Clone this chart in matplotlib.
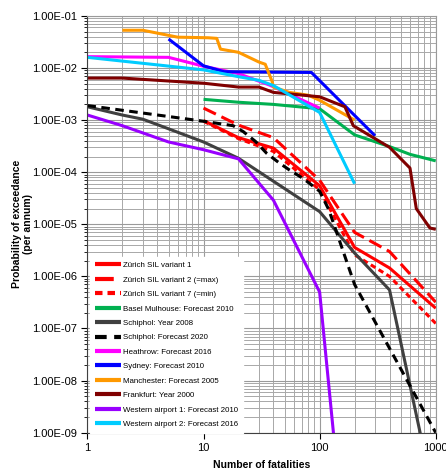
import numpy as np
import matplotlib
matplotlib.use("Agg")
import matplotlib.pyplot as plt
from matplotlib.ticker import LogLocator, FuncFormatter, NullFormatter

plt.rcParams['font.family'] = ['Liberation Sans', 'DejaVu Sans']

# courbes F-N (x = nombre de victimes, y = probabilité)
zh_v1_x = [10, 20, 40, 100, 200, 400, 1000]
zh_v1_y = [9.8e-4, 4.6e-4, 2.9e-4, 5.5e-5, 3.6e-6, 1.45e-6, 2.45e-7]

zh_v2_x = [10, 20, 40, 100, 200, 400, 1000]
zh_v2_y = [1.7e-3, 8.0e-4, 4.6e-4, 7.0e-5, 7.0e-6, 3.0e-6, 3.2e-7]

zh_v7_x = [10, 20, 40, 100, 200, 400, 1000]
zh_v7_y = [9.5e-4, 4.4e-4, 2.5e-4, 4.6e-5, 2.6e-6, 1.0e-6, 1.25e-7]

basel_x = [10, 20, 40, 100, 200, 400, 600, 1000]
basel_y = [2.5e-3, 2.2e-3, 2.0e-3, 1.65e-3, 5.2e-4, 3.1e-4, 2.2e-4, 1.65e-4]

schiphol08_x = [1, 2, 3, 5, 10, 20, 100, 200, 400, 1000]
schiphol08_y = [1.8e-3, 1.25e-3, 1.04e-3, 6.8e-4, 3.8e-4, 1.85e-4, 1.75e-5, 2.8e-6, 5.5e-7, 4e-11]

schiphol20_x = [1, 10, 18, 22, 28, 35, 45, 55, 72, 100, 120, 200, 1000]
schiphol20_y = [1.9e-3, 9.5e-4, 7.8e-4, 6.0e-4, 3.9e-4, 2.3e-4, 1.5e-4, 1.1e-4, 7.6e-5, 4.3e-5, 1.9e-5, 7.0e-7, 1.0e-9]

heathrow_x = [1, 5, 10, 20, 37, 100]
heathrow_y = [1.65e-2, 1.6e-2, 1.08e-2, 7.8e-3, 4.7e-3, 1.7e-3]

sydney_x = [5, 10, 15, 85, 300]
sydney_y = [3.6e-2, 1.1e-2, 8.5e-3, 8.2e-3, 5.0e-4]

manchester_x = [2, 3, 6, 11, 13, 14, 20, 30, 34, 39, 40, 55, 80, 100, 200]
manchester_y = [5.3e-2, 5.3e-2, 3.9e-2, 3.8e-2, 3.7e-2, 2.3e-2, 2.0e-2, 1.3e-2, 1.18e-2, 5.5e-3, 4.3e-3, 3.4e-3, 3.0e-3, 2.4e-3, 1.0e-3]

frankfurt_x = [1, 2, 10, 20, 30, 40, 100, 165, 195, 250, 400, 600, 680, 890, 1000]
frankfurt_y = [6.4e-3, 6.4e-3, 5.1e-3, 4.3e-3, 4.3e-3, 3.4e-3, 2.8e-3, 1.8e-3, 7.8e-4, 5.6e-4, 3.0e-4, 1.2e-4, 2.0e-5, 8.5e-6, 8.0e-6]

western1_x = [1, 2, 5, 10, 20, 40, 100, 150]
western1_y = [1.25e-3, 7.8e-4, 3.8e-4, 2.7e-4, 1.8e-4, 2.9e-5, 5.0e-7, 5e-11]

western2_x = [1, 10, 20, 30, 40, 100, 200]
western2_y = [1.6e-2, 9.2e-3, 6.8e-3, 5.8e-3, 4.6e-3, 1.4e-3, 6.0e-5]

series = [
    (zh_v1_x, zh_v1_y, "Zürich SIL variant 1", "#ff0000", "-"),
    (zh_v2_x, zh_v2_y, "Zürich SIL variant 2 (=max)", "#ff0000", (0, (4.5, 2))),
    (zh_v7_x, zh_v7_y, "Zürich SIL variant 7 (=min)", "#ff0000", (0, (1.8, 1.2))),
    (basel_x, basel_y, "Basel Mulhouse: Forecast 2010", "#00b050", "-"),
    (schiphol08_x, schiphol08_y, "Schiphol: Year 2008", "#404040", "-"),
    (schiphol20_x, schiphol20_y, "Schiphol: Forecast 2020", "black", (0, (2.8, 1.8))),
    (heathrow_x, heathrow_y, "Heathrow: Forecast 2016", "#ff00ff", "-"),
    (sydney_x, sydney_y, "Sydney: Forecast 2010", "#0000ff", "-"),
    (manchester_x, manchester_y, "Manchester: Forecast 2005", "#ff9900", "-"),
    (frankfurt_x, frankfurt_y, "Frankfurt: Year 2000", "#800000", "-"),
    (western1_x, western1_y, "Western airport 1: Forecast 2010", "#9900ff", "-"),
    (western2_x, western2_y, "Western airport 2: Forecast 2016", "#00ccff", "-"),
]

fig = plt.figure(figsize=(4.46, 4.71), dpi=100)
ax = fig.add_axes([0.196, 0.0813, 0.781, 0.885])

for x, y, lab, col, ls in series:
    ax.plot(x, y, color=col, lw=2.2, ls=ls, label=lab, solid_capstyle='butt')

ax.set_xscale('log')
ax.set_yscale('log')
ax.set_xlim(1, 1000)
ax.set_ylim(1e-9, 1e-1)

ax.yaxis.set_major_locator(LogLocator(base=10, numticks=20))
ax.yaxis.set_minor_locator(LogLocator(base=10, subs=np.arange(2, 10), numticks=20))
ax.yaxis.set_minor_formatter(NullFormatter())
ax.yaxis.set_major_formatter(FuncFormatter(lambda v, p: f"{v:.2E}"))
ax.xaxis.set_major_formatter(FuncFormatter(lambda v, p: f"{v:g}"))
ax.xaxis.set_minor_formatter(NullFormatter())

ax.grid(True, which='major', color='#9a9a9a', lw=0.8)
ax.grid(True, which='minor', color='#a8a8a8', lw=0.7)
ax.set_axisbelow(True)

ax.tick_params(which='major', direction='out', length=4, labelsize=8, width=0.8)
ax.tick_params(which='minor', direction='out', length=2.5, width=0.6)
ax.tick_params(axis='x', which='minor', length=0)
for s in ['top', 'right']:
    ax.spines[s].set_color('#9a9a9a')
for s in ['left', 'bottom']:
    ax.spines[s].set_color('#404040')

ax.set_xlabel("Number of fatalities", fontsize=7.5, fontweight='bold')
ax.set_ylabel("Probability of exceedance\n(per annum)", fontsize=7.5, fontweight='bold')
ax.xaxis.set_label_coords(0.5, -0.065)
ax.yaxis.set_label_coords(-0.155, 0.5)

leg = ax.legend(loc='lower left', bbox_to_anchor=(0.007, 0.0), fontsize=5.7,
                frameon=True, fancybox=False, borderaxespad=0, borderpad=0.6,
                handlelength=3.3, handletextpad=0.25, labelspacing=0.87)
leg.get_frame().set_edgecolor('white')
leg.get_frame().set_facecolor('white')
leg.get_frame().set_alpha(1)
for h in leg.get_lines():
    h.set_linewidth(3)

fig.savefig("out.png", dpi=100)
